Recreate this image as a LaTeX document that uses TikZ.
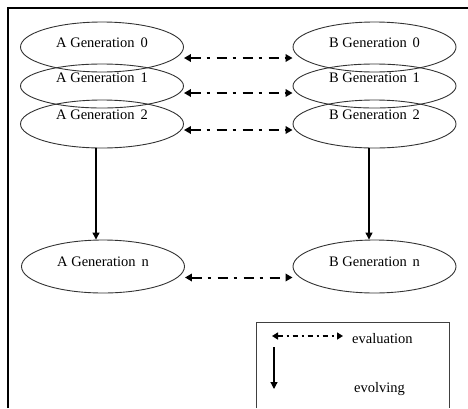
\documentclass[tikz,border=0pt]{standalone}
\usepackage{fontspec}
\setmainfont{Liberation Serif}
\usetikzlibrary{arrows.meta,shapes.geometric}
% text placed with its baseline raised by #1 above the node centre
\newcommand\lift[2]{\raisebox{#1}[0pt][0pt]{#2}}

\begin{document}
\begin{tikzpicture}[x=1pt,y=-1pt,
  gen/.style={ellipse, draw=black!80, line width=0.9pt, minimum width=163pt,
    inner sep=0pt, font=\fontsize{14.5}{17}\selectfont},
  evalarrow/.style={{Triangle[length=7pt,width=7.5pt]}-{Triangle[length=7pt,width=7.5pt]},
    line width=2pt, dash pattern=on 10pt off 6pt on 3pt off 7pt},
  legendeval/.style={{Triangle[length=6pt,width=7pt]}-{Triangle[length=6pt,width=7pt]},
    line width=2pt, dash pattern=on 5pt off 4pt on 2pt off 4pt},
  evolvearrow/.style={-{Triangle[length=7pt,width=7pt]}, line width=1.2pt},
  lbl/.style={font=\fontsize{14.5}{17}\selectfont, inner sep=0pt}]

\useasboundingbox (0,0) rectangle (468,408);

% outer frame
\draw[line width=1.3pt] (8,408) -- (8,8) -- (468,8);

% population A
\node[gen, minimum height=50pt] (a0) at (102,47)  {\lift{-0.8pt}{A Generation\hspace{0.4em}0}};
\node[gen, minimum height=44pt] (a1) at (102,86)  {\lift{3.2pt}{A Generation\hspace{0.4em}1}};
\node[gen, minimum height=48pt] (a2) at (102,124) {\lift{4.2pt}{A Generation\hspace{0.4em}2}};
\node[gen, minimum height=53pt] (an) at (103,266.5) {\lift{-0.3pt}{A Generation\hspace{0.4em}n}};

% population B
\node[gen, minimum height=50pt] (b0) at (374.5,47)  {\lift{-0.8pt}{B Generation\hspace{0.4em}0}};
\node[gen, minimum height=44pt] (b1) at (374.5,86)  {\lift{3.2pt}{B Generation\hspace{0.4em}1}};
\node[gen, minimum height=48pt] (b2) at (374.5,124) {\lift{4.2pt}{B Generation\hspace{0.4em}2}};
\node[gen, minimum height=53pt] (bn) at (374.5,266.5) {\lift{-0.3pt}{B Generation\hspace{0.4em}n}};

% evaluation between the populations
\draw[evalarrow] ([yshift=-11pt]a0.east) -- ([yshift=-11pt]b0.west);
\draw[evalarrow] ([yshift=-7pt]a1.east) -- ([yshift=-7pt]b1.west);
\draw[evalarrow] ([yshift=-6pt]a2.east) -- ([yshift=-6pt]b2.west);
\draw[evalarrow] ([yshift=-11pt]an.east) -- ([yshift=-11pt]bn.west);

% evolution of each population
\draw[evolvearrow] ([xshift=-6pt]a2.south) -- ([xshift=-7pt]an.north);
\draw[evolvearrow] ([xshift=-5.5pt]b2.south) -- ([xshift=-5.5pt]bn.north);

% legend
\draw[black!75, line width=1pt] (256,408) -- (256,322) -- (449,322) -- (449,408);
\coordinate (le1) at (272,336);
\coordinate (le2) at (343,336);
\draw[legendeval] (le1) -- (le2);
\node[lbl, anchor=base west] (evaltext) at (352,343) {evaluation};
\coordinate (lv1) at (274,347);
\coordinate (lv2) at (274,389);
\draw[evolvearrow] (lv1) -- (lv2);
\node[lbl, anchor=base west] (evoltext) at (354,392) {evolving};

\end{tikzpicture}
\end{document}
